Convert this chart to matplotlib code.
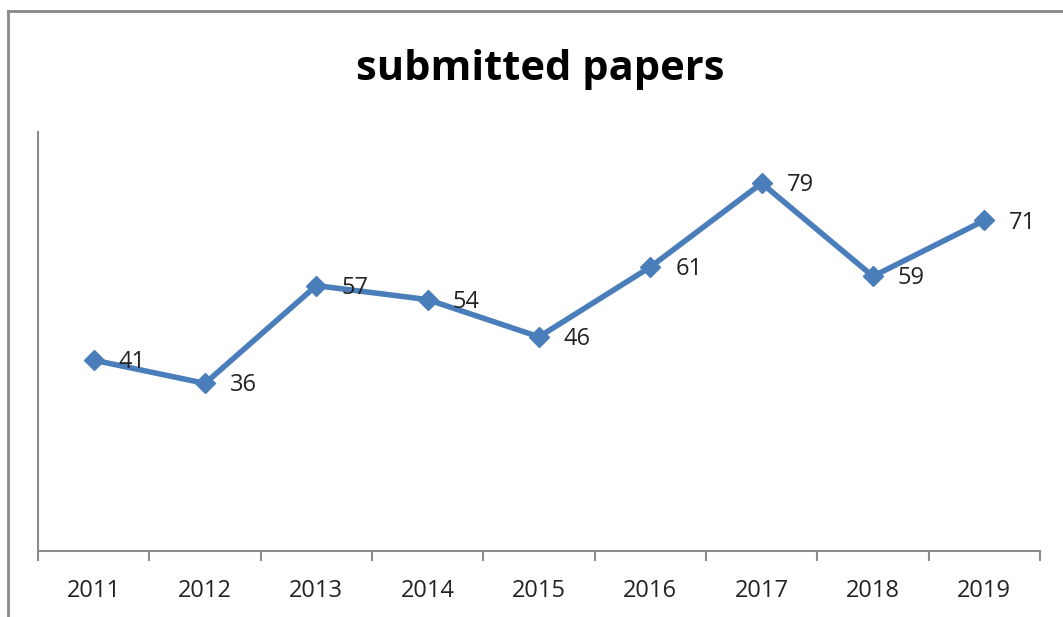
import matplotlib
matplotlib.use("Agg")
import matplotlib.pyplot as plt
from matplotlib.lines import Line2D

years = ["2011", "2012", "2013", "2014", "2015", "2016", "2017", "2018", "2019"]
papers = [41, 36, 57, 54, 46, 61, 79, 59, 71]

plt.rcParams['font.family'] = ['Open Sans', 'DejaVu Sans']

fig = plt.figure(figsize=(10.63, 6.17), dpi=100)
W, H = 1063, 617
ax = fig.add_axes([38 / W, 1 - 551 / H, (1040 - 38) / W, (551 - 132) / H])

x = list(range(len(years)))
ax.plot(x, papers, color="#4A7EBB", lw=4, marker="D", markersize=10.5,
        markeredgecolor="#4A7EBB", markerfacecolor="#4A7EBB", solid_joinstyle="miter")
for xi, v in zip(x, papers):
    ax.annotate(str(v), (xi, v), xytext=(18, -1.5), textcoords="offset points",
                ha="left", va="center", fontsize=17, color="#222222")

ax.set_xlim(-0.5, len(years) - 0.5)
ax.set_ylim(0, 90)
ax.set_yticks([])
ax.set_xticks(x)
ax.set_xticklabels(years, fontsize=17, color="#222222")
ax.tick_params(axis="x", length=0, pad=20)
ax.set_xticks([i - 0.5 for i in range(len(years) + 1)], minor=True)
ax.tick_params(axis="x", which="minor", length=7, width=1.5, color="#8c8c8c")
for s in ["top", "right"]:
    ax.spines[s].set_visible(False)
for s in ["left", "bottom"]:
    ax.spines[s].set_color("#8c8c8c")
    ax.spines[s].set_linewidth(1.5)

fig.text(540 / W, 1 - 70 / H, "submitted papers", ha="center", va="center",
         fontsize=30, fontweight="bold", color="#000000")

# chart border (top and left visible)
fig.add_artist(Line2D([8 / W, 1], [1 - 11 / H, 1 - 11 / H], color="#888888", lw=2, transform=fig.transFigure))
fig.add_artist(Line2D([8 / W, 8 / W], [0, 1 - 11 / H], color="#888888", lw=2, transform=fig.transFigure))

fig.savefig("out.png", dpi=100)
